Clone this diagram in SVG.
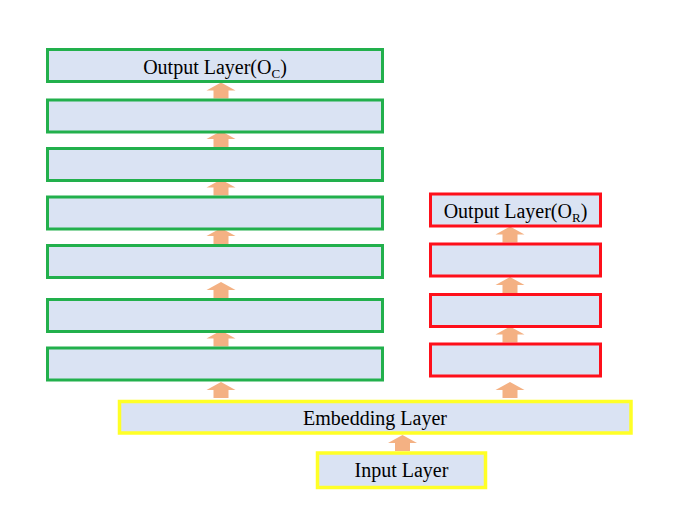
<svg xmlns="http://www.w3.org/2000/svg" xmlns:xlink="http://www.w3.org/1999/xlink" width="676" height="512" viewBox="0 0 676 512">
<style>
.box{fill:#dae3f3;stroke-width:3}
.g{stroke:#22b04c}
.r{stroke:#fe0f1a}
.y{stroke:#ffff26;stroke-width:3.5}
.t{font-family:"Liberation Serif","Times New Roman",serif;font-size:20px;fill:#000;text-anchor:middle}
.sub{font-size:13px}
.arr{fill:#f4b183}
</style>
<defs>
<path id="up" d="M0,0 L14.5,8 L7.5,8 L7.5,16 L-7.5,16 L-7.5,8 L-14.5,8 Z"/>
</defs>
<rect width="676" height="512" fill="#fff"/>
<g id="connectors" class="arr">
<use xlink:href="#up" x="221" y="82.5"/>
<use xlink:href="#up" x="221" y="131"/>
<use xlink:href="#up" x="221" y="179.5"/>
<use xlink:href="#up" x="221" y="228"/>
<use xlink:href="#up" x="221" y="282"/>
<use xlink:href="#up" x="221" y="330.5"/>
<use xlink:href="#up" x="221" y="382"/>
<use xlink:href="#up" x="510" y="226.5"/>
<use xlink:href="#up" x="510" y="277"/>
<use xlink:href="#up" x="510" y="326.5"/>
<use xlink:href="#up" x="510" y="382"/>
<use xlink:href="#up" x="402.5" y="435"/>
</g>
<g id="outputC"><rect class="box g" x="47.5" y="49.5" width="335" height="32"/>
<text class="t" x="215" y="73.5">Output Layer(O<tspan class="sub" dy="4">C</tspan><tspan dy="-4">)</tspan></text></g>
<g id="g2"><rect class="box g" x="47.5" y="100" width="335" height="32"/></g>
<g id="g3"><rect class="box g" x="47.5" y="148.5" width="335" height="32"/></g>
<g id="g4"><rect class="box g" x="47.5" y="197" width="335" height="32"/></g>
<g id="g5"><rect class="box g" x="47.5" y="245.5" width="335" height="32"/></g>
<g id="g6"><rect class="box g" x="47.5" y="299.5" width="335" height="32"/></g>
<g id="g7"><rect class="box g" x="47.5" y="348" width="335" height="32"/></g>
<g id="outputR"><rect class="box r" x="430.5" y="194" width="170" height="32"/>
<text class="t" x="515.5" y="218">Output Layer(O<tspan class="sub" dy="4">R</tspan><tspan dy="-4">)</tspan></text></g>
<g id="r2"><rect class="box r" x="430.5" y="244" width="170" height="32"/></g>
<g id="r3"><rect class="box r" x="430.5" y="294.5" width="170" height="32"/></g>
<g id="r4"><rect class="box r" x="430.5" y="344" width="170" height="32"/></g>
<g id="embedding"><rect class="box y" x="119.5" y="401.5" width="511.5" height="31.5"/>
<text class="t" x="375" y="425">Embedding Layer</text></g>
<g id="input"><rect class="box y" x="317.5" y="453" width="168" height="34.5"/>
<text class="t" x="401.5" y="477">Input Layer</text></g>
</svg>
